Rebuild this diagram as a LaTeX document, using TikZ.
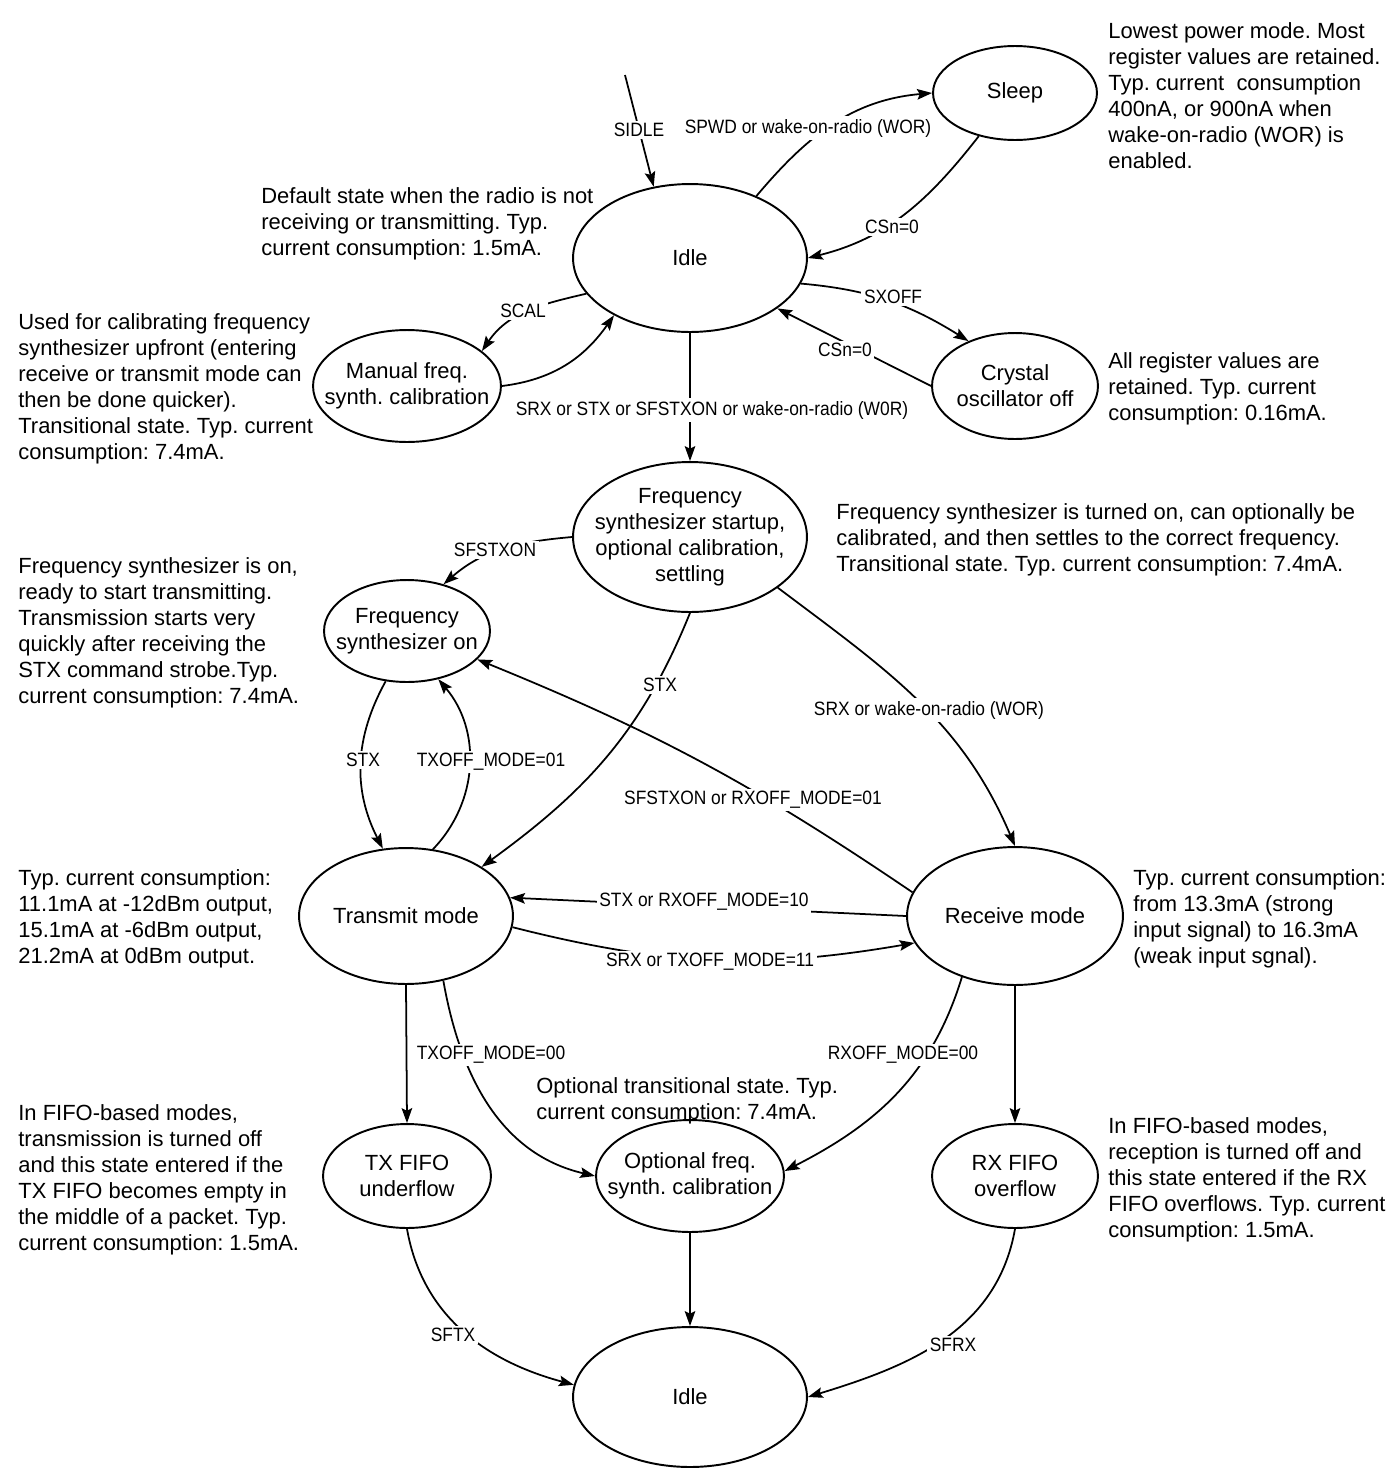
\documentclass[tikz,border=0pt]{standalone}
\usepackage{fontspec}
\setmainfont{Liberation Sans}
\newfontfamily\lblfont[FakeStretch=0.9]{Liberation Sans}
\usetikzlibrary{shapes.geometric,arrows.meta}
\frenchspacing
\begin{document}
\begin{tikzpicture}[x=0.02cm,y=-0.02cm,
  st/.style 2 args={ellipse, draw, line width=1.1pt, inner sep=0pt,
     minimum width={#1*0.04cm}, minimum height={#2*0.04cm}},
  nt/.style={align=center, inner sep=0pt, font=\fontsize{12.5}{14.8}\selectfont},
  arr/.style={line width=1pt, -{Stealth[length=8.5pt,width=6pt,inset=1.5pt]}},
  lbl/.style={fill=white, inner sep=1.5pt, font=\lblfont\fontsize{11}{13}\selectfont},
  desc/.style={anchor=north west, align=left, inner sep=0pt, font=\fontsize{12.5}{14.8}\selectfont}]
\fill[white] (0,0) rectangle (1395,1471);
\useasboundingbox (0,0) rectangle (1395,1471);

% states
\node[st={117}{74}, label={[nt]center:Idle}] (idle) at (690,258) {};
\node[st={82}{47}, label={[nt]center:Sleep}] (sleep) at (1015,93) {};
\node[st={94}{56}, label={[nt]center:{Manual freq.\\synth. calibration}}] (man) at (407,386) {};
\node[st={83}{53}, label={[nt]center:{Crystal\\oscillator off}}] (xo) at (1015,386) {};
\node[st={117}{75}, label={[nt]center:{Frequency\\synthesizer startup,\\optional calibration,\\settling}}] (fs) at (690,537) {};
\node[st={83}{51}, label={[nt]center:{Frequency\\synthesizer on}}] (fson) at (407,631) {};
\node[st={107}{68}, label={[nt]center:{Transmit mode}}] (tx) at (406,916) {};
\node[st={108}{69}, label={[nt]center:{Receive mode}}] (rx) at (1015,916) {};
\node[st={84}{52}, label={[nt]center:{TX FIFO\\underflow}}] (txf) at (407,1176) {};
\node[st={94}{56}, label={[nt]center:{Optional freq.\\synth. calibration}}] (opt) at (690,1176) {};
\node[st={83}{52}, label={[nt]center:{RX FIFO\\overflow}}] (rxf) at (1015,1176) {};
\node[st={117}{70}, label={[nt]center:Idle}] (idleb) at (690,1397) {};
\coordinate (sidle) at (625,75);

% connectors
\draw[arr] (sidle) -- (idle.117);
\draw[arr] (idle.43) to[out=50,in=185] (sleep.180);
\draw[arr] (sleep.230) to[out=232,in=14] (idle.east);
\draw[arr] (idle.-13) to[out=-5,in=148] (xo.136);
\draw[arr] (xo.west) -- (idle.-30);
\draw[arr] (idle.199) to[out=193,in=56] (man.25);
\draw[arr] (man.east) to[out=7,in=235] (idle.217);
\draw[arr] (idle.south) -- (fs.north);
\draw[arr] (fs.west) to[out=185,in=41] (fson.52);
\draw[arr] (fs.south) to[out=248,in=36] (tx.33);
\draw[arr] (fs.-30) to[out=-37,in=113] (rx.north);
\draw[arr] (fson.247) to[bend right=28] (tx.109);
\draw[arr] (tx.68) to[bend right=42] (fson.-57);
\draw[arr] (rx.167) to[bend right=6] (fson.-22);
\draw[arr] (rx.west) -- (tx.10);
\draw[arr] (tx.-6) to[bend right=12] (rx.195);
\draw[arr] (tx.south) -- (txf.north);
\draw[arr] (tx.-60) to[out=-80,in=167] (opt.west);
\draw[arr] (rx.229) to[out=253,in=27] (opt.3);
\draw[arr] (rx.south) -- (rxf.north);
\draw[arr] (opt.south) -- (idleb.north);
\draw[arr] (txf.south) to[out=-80,in=165] (idleb.174);
\draw[arr] (rxf.south) to[out=-100,in=17] (idleb.east);

% connector labels
\node[lbl] (l1) at (639,130) {SIDLE};
\node[lbl] (l2) at (808,128) {SPWD or wake-on-radio (WOR)};
\node[lbl] (l3) at (892,227) {CSn=0};
\node[lbl] (l4) at (893,297) {SXOFF};
\node[lbl] (l5) at (845,350) {CSn=0};
\node[lbl] (l6) at (523,311) {SCAL};
\node[lbl] (l7) at (712,410) {SRX or STX or SFSTXON or wake-on-radio (W0R)};
\node[lbl] (l8) at (495,550) {SFSTXON};
\node[lbl] (l9) at (660,685) {STX};
\node[lbl] (l10) at (929,710) {SRX or wake-on-radio (WOR)};
\node[lbl] (l11) at (363,760) {STX};
\node[lbl] (l12) at (491,762) {TXOFF\_MODE=01};
\node[lbl] (l13) at (753,800) {SFSTXON or RXOFF\_MODE=01};
\node[lbl] (l14) at (704,902) {STX or RXOFF\_MODE=10};
\node[lbl] (l15) at (710,962) {SRX or TXOFF\_MODE=11};
\node[lbl] (l16) at (491,1055) {TXOFF\_MODE=00};
\node[lbl] (l17) at (903,1055) {RXOFF\_MODE=00};
\node[lbl] (l18) at (453,1335) {SFTX};
\node[lbl] (l19) at (953,1345) {SFRX};

% descriptions
\node[desc] (d1) at (1108,22) {Lowest power mode. Most\\register values are retained.\\Typ. current\ \ consumption\\400nA, or 900nA when\\wake-on-radio (WOR) is\\enabled.};
\node[desc] (d2) at (261,187) {Default state when the radio is not\\receiving or transmitting. Typ.\\current consumption: 1.5mA.};
\node[desc] (d3) at (18,313) {Used for calibrating frequency\\synthesizer upfront (entering\\receive or transmit mode can\\then be done quicker).\\Transitional state. Typ. current\\consumption: 7.4mA.};
\node[desc] (d4) at (1108,352) {All register values are\\retained. Typ. current\\consumption: 0.16mA.};
\node[desc] (d5) at (836,503) {Frequency synthesizer is turned on, can optionally be\\calibrated, and then settles to the correct frequency.\\Transitional state. Typ. current consumption: 7.4mA.};
\node[desc] (d6) at (18,557) {Frequency synthesizer is on,\\ready to start transmitting.\\Transmission starts very\\quickly after receiving the\\STX command strobe.Typ.\\current consumption: 7.4mA.};
\node[desc] (d7) at (18,869) {Typ. current consumption:\\11.1mA at -12dBm output,\\15.1mA at -6dBm output,\\21.2mA at 0dBm output.};
\node[desc] (d8) at (1133,869) {Typ. current consumption:\\from 13.3mA (strong\\input signal) to 16.3mA\\(weak input sgnal).};
\node[desc] (d9) at (536,1077) {Optional transitional state. Typ.\\current consumption: 7.4mA.};
\node[desc] (d10) at (18,1104) {In FIFO-based modes,\\transmission is turned off\\and this state entered if the\\TX FIFO becomes empty in\\the middle of a packet. Typ.\\current consumption: 1.5mA.};
\node[desc] (d11) at (1108,1117) {In FIFO-based modes,\\reception is turned off and\\this state entered if the RX\\FIFO overflows. Typ. current\\consumption: 1.5mA.};
\end{tikzpicture}
\end{document}
